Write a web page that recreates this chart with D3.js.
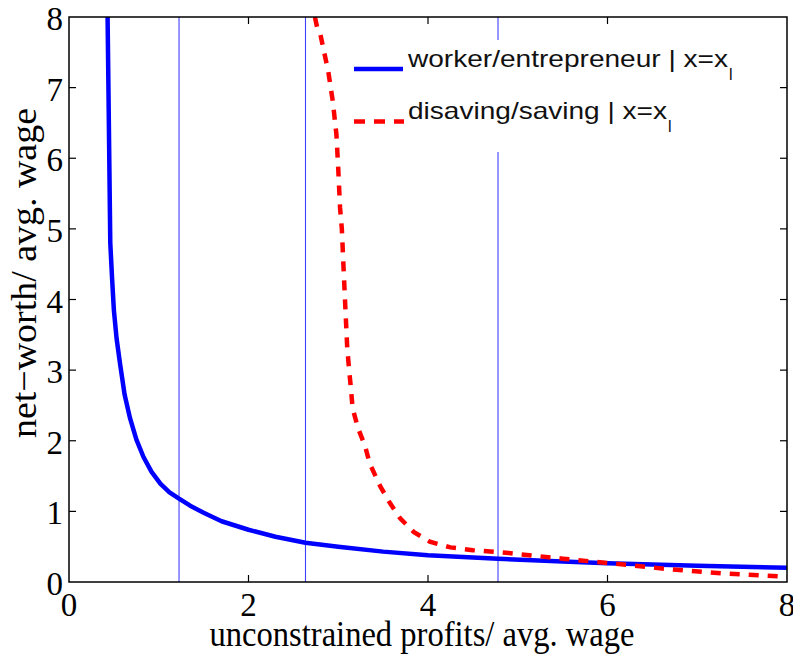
<!DOCTYPE html>
<html>
<head>
<meta charset="utf-8">
<script src="https://cdn.jsdelivr.net/npm/d3@7"></script>
<style>
  html, body { margin: 0; padding: 0; background: #fff; }
  svg { display: block; }
</style>
</head>
<body>
<svg id="chart" width="793" height="654"></svg>
<script>
// ---- data ----
const xTicks = [0, 2, 4, 6, 8];
const yTicks = [0, 1, 2, 3, 4, 5, 6, 7, 8];
const thresholds = [1.226, 2.635, 4.78];

const workerX = [0.43, 0.46, 0.48, 0.50, 0.53, 0.57, 0.62, 0.68, 0.75, 0.83, 0.92, 1.02, 1.12, 1.226, 1.35, 1.50, 1.70, 2.00, 2.30, 2.635, 3.00, 3.50, 4.00, 4.78, 5.50, 6.00, 7.00, 8.00];
const workerY = [8.00, 4.80, 4.30, 3.85, 3.45, 3.08, 2.65, 2.32, 2.02, 1.77, 1.56, 1.39, 1.27, 1.18, 1.08, 0.98, 0.86, 0.74, 0.64, 0.555, 0.50, 0.43, 0.38, 0.33, 0.29, 0.265, 0.23, 0.20];

const savingX = [2.74, 2.77, 2.80, 2.84, 2.89, 2.94, 2.98, 3.00, 3.02, 3.04, 3.06, 3.08, 3.10, 3.12, 3.14, 3.16, 3.22, 3.30, 3.35, 3.47, 3.58, 3.69, 3.84, 4.02, 4.25, 4.50, 4.90, 5.50, 6.00, 6.70, 7.30, 8.00];
const savingY = [8.00, 7.82, 7.76, 7.52, 7.22, 6.80, 6.33, 5.85, 5.30, 5.00, 4.42, 3.86, 3.32, 3.02, 2.76, 2.46, 2.18, 1.92, 1.68, 1.35, 1.11, 0.90, 0.71, 0.57, 0.49, 0.45, 0.41, 0.33, 0.27, 0.18, 0.12, 0.075];

const legendLabels = ["worker/entrepreneur | x=x", "disaving/saving | x=x"];
const xLabel = "unconstrained profits/ avg. wage";
const yLabel = "net\u2212worth/ avg. wage";

// ---- layout ----
const svg = d3.select("#chart");
const L = 69, R = 787, T = 17, B = 582;
const x = d3.scaleLinear().domain([0, 8]).range([L, R]);
const y = d3.scaleLinear().domain([0, 8]).range([B, T]);

const serif = "'Liberation Serif', 'Times New Roman', serif";
const sans = "'Liberation Sans', Arial, sans-serif";

svg.append("defs").append("clipPath").attr("id", "clip")
  .append("rect").attr("x", L).attr("y", T).attr("width", R - L).attr("height", B - T);

const plot = svg.append("g").attr("clip-path", "url(#clip)");

// threshold vertical lines
plot.selectAll("line.th").data(thresholds).join("line")
  .attr("class", "th")
  .attr("x1", d => x(d)).attr("x2", d => x(d))
  .attr("y1", y(0)).attr("y2", y(8))
  .attr("stroke", "#4040ff").attr("stroke-width", 1.1);

const line = d3.line().x(d => x(d[0])).y(d => y(d[1]));

plot.append("path")
  .datum(workerX.map((v, i) => [v, workerY[i]]))
  .attr("d", line).attr("fill", "none")
  .attr("stroke", "#0000ff").attr("stroke-width", 4.5)
  .attr("stroke-linejoin", "round");

plot.append("path")
  .datum(savingX.map((v, i) => [v, savingY[i]]))
  .attr("d", line).attr("fill", "none")
  .attr("stroke", "#ff0000").attr("stroke-width", 4.5)
  .attr("stroke-dasharray", "10,9");

// legend (white box, no border)
const lg = svg.append("g");
lg.append("rect").attr("x", 346).attr("y", 40).attr("width", 424).attr("height", 112).attr("fill", "#fff");
lg.append("line").attr("x1", 354).attr("x2", 403).attr("y1", 69).attr("y2", 69)
  .attr("stroke", "#0000ff").attr("stroke-width", 4.5);
lg.append("line").attr("x1", 354).attr("x2", 404).attr("y1", 121.5).attr("y2", 121.5)
  .attr("stroke", "#ff0000").attr("stroke-width", 4.5).attr("stroke-dasharray", "11,9");
const legY = [67, 118.5];
const legW = [320, 259];
legendLabels.forEach((t, i) => {
  lg.append("text").attr("x", 408).attr("y", legY[i])
    .attr("font-family", sans).attr("font-size", 24)
    .attr("textLength", legW[i]).attr("lengthAdjust", "spacingAndGlyphs")
    .attr("fill", "#111").text(t);
  lg.append("text").attr("x", 408 + legW[i] + 1).attr("y", legY[i] + 13)
    .attr("font-family", sans).attr("font-size", 16)
    .attr("fill", "#111").text("l");
});

// axes box
const ax = svg.append("g");
ax.append("rect").attr("x", L).attr("y", T).attr("width", R - L).attr("height", B - T)
  .attr("fill", "none").attr("stroke", "#000").attr("stroke-width", 1.5);

const tl = 7;
ax.selectAll("line.xb").data(xTicks.slice(1, -1)).join("line")
  .attr("x1", d => x(d)).attr("x2", d => x(d)).attr("y1", B).attr("y2", B - tl)
  .attr("stroke", "#000").attr("stroke-width", 1.2);
ax.selectAll("line.xt").data(xTicks.slice(1, -1)).join("line")
  .attr("x1", d => x(d)).attr("x2", d => x(d)).attr("y1", T).attr("y2", T + tl)
  .attr("stroke", "#000").attr("stroke-width", 1.2);
ax.selectAll("line.yl").data(yTicks.slice(1, -1)).join("line")
  .attr("x1", L).attr("x2", L + tl).attr("y1", d => y(d)).attr("y2", d => y(d))
  .attr("stroke", "#000").attr("stroke-width", 1.2);
ax.selectAll("line.yr").data(yTicks.slice(1, -1)).join("line")
  .attr("x1", R).attr("x2", R - tl).attr("y1", d => y(d)).attr("y2", d => y(d))
  .attr("stroke", "#000").attr("stroke-width", 1.2);

// tick labels
ax.selectAll("text.xl").data(xTicks).join("text")
  .attr("x", d => x(d)).attr("y", 616)
  .attr("text-anchor", "middle")
  .attr("font-family", serif).attr("font-size", 33).attr("fill", "#000")
  .text(d => d);
ax.selectAll("text.yl").data(yTicks).join("text")
  .attr("x", 63).attr("y", d => y(d) + 13)
  .attr("text-anchor", "end")
  .attr("font-family", serif).attr("font-size", 33).attr("fill", "#000")
  .text(d => d);

// axis labels
svg.append("text").attr("x", 422).attr("y", 646)
  .attr("text-anchor", "middle")
  .attr("font-family", serif).attr("font-size", 35)
  .attr("textLength", 425).attr("lengthAdjust", "spacingAndGlyphs")
  .attr("fill", "#000").text(xLabel);
svg.append("text")
  .attr("transform", "translate(36,273) rotate(-90)")
  .attr("text-anchor", "middle")
  .attr("font-family", serif).attr("font-size", 35)
  .attr("textLength", 330).attr("lengthAdjust", "spacingAndGlyphs")
  .attr("fill", "#000").text(yLabel);
</script>
</body>
</html>
